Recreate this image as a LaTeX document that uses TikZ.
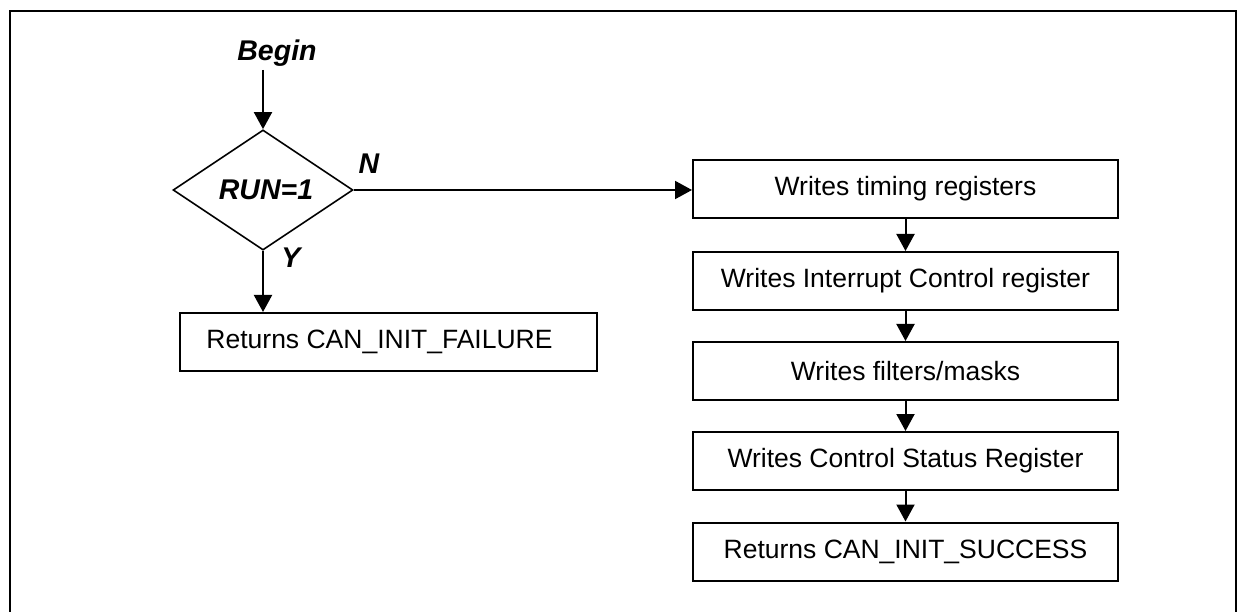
\documentclass[tikz,border=0pt]{standalone}
\usepackage{fontspec}
\setmainfont{Liberation Sans}
\usetikzlibrary{shapes.geometric,arrows.meta}
\tikzset{
  box/.style={draw, line width=2pt, minimum height=58pt, inner sep=0pt,
    font=\fontsize{26.5}{30}\selectfont},
  lbl/.style={font=\fontsize{28.5}{32}\selectfont\bfseries\itshape, inner sep=0pt},
  dec/.style={draw, diamond, line width=1.6pt, minimum width=180pt, minimum height=120pt,
    inner sep=0pt, font=\fontsize{28.5}{32}\selectfont\bfseries\itshape},
  arr/.style={line width=2pt, -{Triangle[width=18pt,length=17pt]}},
  frame/.style={line width=2.6pt}
}
\begin{document}
\begin{tikzpicture}[x=1pt,y=-1pt]
\useasboundingbox (0,0) rectangle (1237,612);
\fill[white] (0,0) rectangle (1237,612);
\begin{scope}
\clip (0,0) rectangle (1237,612);
\draw[frame] (10,630) -- (10,11) -- (1236,11) -- (1236,630);
\end{scope}

\node[lbl, anchor=base] (begin) at (277,61) {Begin};
\coordinate (bstart) at (263,70);
\node[dec] (run) at (263,190) {\hspace*{6pt}RUN=1};
\node[box, minimum width=417pt] (fail) at (388.5,342) {\hspace*{-18pt}Returns CAN\_INIT\_FAILURE};

\node[box, minimum width=425pt] (b1) at (905.5,189) {Writes timing registers};
\node[box, minimum width=425pt] (b2) at (905.5,281) {Writes Interrupt Control register};
\node[box, minimum width=425pt] (b3) at (905.5,371) {Writes filters/masks};
\node[box, minimum width=425pt] (b4) at (905.5,461) {Writes Control Status Register};
\node[box, minimum width=425pt] (b5) at (905.5,551.5) {Returns CAN\_INIT\_SUCCESS};

\node[lbl] (nl) at (369,164) {N};
\node[lbl] (yl) at (291,258) {Y};

\draw[arr] (bstart) -- (run.north);
\draw[arr] (run.south) -- (run.south |- fail.north);
\draw[arr] (run.east) -- (run.east -| b1.west);
\draw[arr] (b1) -- (b2);
\draw[arr] (b2) -- (b3);
\draw[arr] (b3) -- (b4);
\draw[arr] (b4) -- (b5);
\end{tikzpicture}
\end{document}
